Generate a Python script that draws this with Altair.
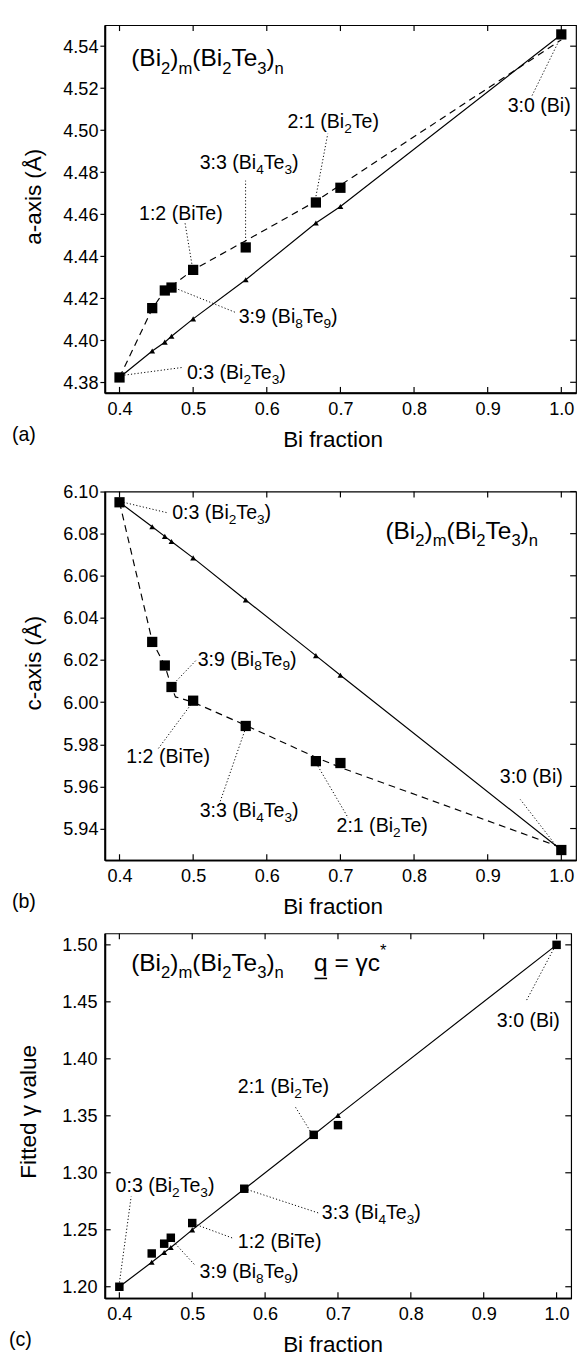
import altair as alt
import pandas as pd

FONT = "Liberation Sans"

# ---------------- data ----------------
bi_fraction = [0.4, 0.4444, 0.4615, 0.4706, 0.5, 0.5714, 0.6667, 0.7, 1.0]

a_measured = [4.3823, 4.4153, 4.4237, 4.4251, 4.4335, 4.4442, 4.4656, 4.4726, 4.5456]
a_vegard = [4.3823, 4.3949, 4.3991, 4.4019, 4.4102, 4.4288, 4.4558, 4.4637, 4.5456]
a_fit_x = [0.4, 0.4444, 0.4615, 0.4706, 0.5, 0.5714, 0.6667, 1.0]
a_fit_y = [4.3823, 4.4150, 4.4237, 4.4258, 4.4335, 4.4474, 4.4662, 4.5430]

b_measured = [6.0949, 6.0286, 6.0174, 6.0072, 6.0007, 5.9887, 5.9720, 5.9711, 5.9298]
b_vegard = [6.0949, 6.0833, 6.0787, 6.0763, 6.0685, 6.0485, 6.0221, 6.0128, 5.9298]
b_fit_x = [0.4, 0.4444, 0.4615, 0.4706, 0.476, 0.5, 0.5714, 0.6667, 0.7, 1.0]
b_fit_y = [6.0949, 6.0290, 6.0174, 6.0072, 6.0025, 6.0000, 5.9890, 5.9738, 5.9690, 5.9310]

c_measured = [1.2000, 1.2292, 1.2378, 1.2430, 1.2559, 1.2860, 1.3333, 1.3418, 1.5000]
c_model = [1.2000, 1.2215, 1.2301, 1.2344, 1.2499, 1.2857, 1.3333, 1.3504, 1.5000]

x_ticks = [0.4, 0.5, 0.6, 0.7, 0.8, 0.9, 1.0]
a_ticks = [4.38, 4.40, 4.42, 4.44, 4.46, 4.48, 4.50, 4.52, 4.54]
b_ticks = [5.94, 5.96, 5.98, 6.00, 6.02, 6.04, 6.06, 6.08, 6.10]
c_ticks = [1.20, 1.25, 1.30, 1.35, 1.40, 1.45, 1.50]

# annotations: (text, x, y, kind)  "_c" = subscript char, "^c" = superscript char
a_labels = [
    ("(Bi_2)_m(Bi_2Te_3)_n", 0.4159, 4.5305, "big"),
    ("2:1 (Bi_2Te)", 0.6283, 4.5011, "small"),
    ("3:0 (Bi)", 0.9271, 4.5086, "small"),
    ("3:3 (Bi_4Te_3)", 0.5088, 4.4816, "small"),
    ("1:2 (BiTe)", 0.4265, 4.4574, "small"),
    ("3:9 (Bi_8Te_9)", 0.5619, 4.4080, "small"),
    ("0:3 (Bi_2Te_3)", 0.4915, 4.3815, "small"),
]
a_leaders = [
    (0.6668, 4.4686, 0.6828, 4.4983),
    (0.9988, 4.5440, 0.9603, 4.5165),
    (0.5712, 4.4471, 0.5712, 4.4760),
    (0.4982, 4.4364, 0.4889, 4.4560),
    (0.4756, 4.4248, 0.5579, 4.4132),
    (0.4066, 4.3834, 0.4862, 4.3871),
]
b_labels = [
    ("(Bi_2)_m(Bi_2Te_3)_n", 0.7611, 6.0777, "big"),
    ("0:3 (Bi_2Te_3)", 0.4716, 6.0870, "small"),
    ("3:9 (Bi_8Te_9)", 0.5061, 6.0174, "small"),
    ("1:2 (BiTe)", 0.4092, 5.9710, "small"),
    ("3:3 (Bi_4Te_3)", 0.5088, 5.9454, "small"),
    ("2:1 (Bi_2Te)", 0.6947, 5.9385, "small"),
    ("3:0 (Bi)", 0.9164, 5.9617, "small"),
]
b_leaders = [
    (0.4052, 6.0949, 0.4663, 6.0898),
    (0.4743, 6.0090, 0.5035, 6.0197),
    (0.4968, 5.9988, 0.4517, 5.9775),
    (0.5699, 5.9863, 0.5354, 5.9515),
    (0.6695, 5.9696, 0.7106, 5.9450),
    (0.9948, 5.9310, 0.9443, 5.9538),
]
c_labels = [
    ("(Bi_2)_m(Bi_2Te_3)_n", 0.4162, 1.4774, "big"),
    ("q = γc^*", 0.6671, 1.4774, "big_underline"),
    ("3:0 (Bi)", 0.9180, 1.4276, "small"),
    ("2:1 (Bi_2Te)", 0.5625, 1.3702, "small"),
    ("3:3 (Bi_4Te_3)", 0.6779, 1.2595, "small"),
    ("1:2 (BiTe)", 0.5625, 1.2338, "small"),
    ("3:9 (Bi_8Te_9)", 0.5101, 1.2080, "small"),
    ("0:3 (Bi_2Te_3)", 0.3948, 1.2827, "small"),
]
c_leaders = [
    (0.9959, 1.4963, 0.9583, 1.4508),
    (0.6618, 1.3367, 0.6403, 1.3590),
    (0.5759, 1.2852, 0.6738, 1.2646),
    (0.5061, 1.2543, 0.5571, 1.2423),
    (0.4739, 1.2398, 0.5034, 1.2192),
    (0.4001, 1.2037, 0.4162, 1.2792),
]

# ---------------- helpers ----------------
ADV = {' ': 278, '(': 333, ')': 333, ':': 278, 'B': 667, 'i': 222, 'T': 611,
       'e': 556, 'm': 833, 'n': 556, 'q': 556, '=': 584, 'γ': 500, 'c': 500,
       '*': 389, '_': 556}
for d in "0123456789":
    ADV[d] = 556
KERN = {("T", "e"): -111}

STYLE = {"small": (20, 14, 5, 0), "big": (25, 17, 8, 15), "big_underline": (25, 17, 8, 15)}


def seg_width(seg, fs):
    w = sum(ADV.get(c, 556) for c in seg)
    for i in range(len(seg) - 1):
        w += KERN.get((seg[i], seg[i + 1]), 0)
    return w * fs / 1000.0


def parse(s):
    out, buf, i = [], "", 0
    while i < len(s):
        ch = s[i]
        if ch in "_^" and i + 1 < len(s):
            if buf:
                out.append((buf, "n"))
                buf = ""
            out.append((s[i + 1], "sub" if ch == "_" else "sup"))
            i += 2
        else:
            buf += ch
            i += 1
    if buf:
        out.append((buf, "n"))
    return out


def text_rows(labels, xper, yper):
    rows, unders = {}, []
    for text, x0, y0, kind in labels:
        fm, fsub, drop, rise = STYLE[kind]
        off = 0.0
        for seg, typ in parse(text):
            fs = fm if typ == "n" else fsub
            dy = 0 if typ == "n" else (drop if typ == "sub" else -rise)
            rows.setdefault(fs, []).append(
                {"x": x0 + off * xper, "y": y0 - dy * yper, "t": seg})
            off += seg_width(seg, fs)
        if kind == "big_underline":
            first = text[0]
            wq = seg_width(first, fm)
            yy = y0 - 8 * yper
            unders.append({"x": x0 + 0.5 * xper, "y": yy,
                           "x2": x0 + (wq - 0.5) * xper, "y2": yy})
    return rows, unders


def panel(W, H, xdom, ydom, yticks, ytitle, ytitle_x, ytitle_y, meas, model,
          fit_x, fit_y, labels, leaders, tag, tag_x, left_out, sq_size, spacer=0):
    xs = alt.Scale(domain=xdom, nice=False, zero=False)
    ys = alt.Scale(domain=ydom, nice=False, zero=False)
    xaxis = alt.Axis(values=x_ticks, format=".1f", ticks=False, labelFontSize=18.5,
                     labelPadding=7, labelColor="black", labelFlush=False,
                     domainColor="black", domainWidth=2, grid=False,
                     title="Bi fraction", titleFontSize=23, titleFontWeight="normal",
                     titleColor="black", titleX=233, titleY=55,
                     titleBaseline="alphabetic", titleAlign="center")
    yaxis = alt.Axis(values=yticks, format=".2f", ticks=left_out, tickSize=5,
                     tickWidth=1.2, tickColor="black", labelFontSize=18.5,
                     labelPadding=2 if left_out else 8, labelColor="black",
                     labelFlush=False, domainColor="black", domainWidth=2, grid=False,
                     title=ytitle, titleFontSize=23, titleFontWeight="normal",
                     titleColor="black", titleAngle=270, titleX=ytitle_x,
                     titleY=ytitle_y, titleBaseline="alphabetic", titleAlign="center")
    X = alt.X("x:Q", scale=xs, axis=xaxis)
    Y = alt.Y("y:Q", scale=ys, axis=yaxis)
    xper = (xdom[1] - xdom[0]) / W
    yper = (ydom[1] - ydom[0]) / H

    layers = []
    layers.append(alt.Chart(pd.DataFrame({"x": bi_fraction, "y": model}))
                  .mark_line(color="black", strokeWidth=1.2).encode(x=X, y=Y))
    if fit_x is not None:
        layers.append(alt.Chart(pd.DataFrame({"x": fit_x, "y": fit_y}))
                      .mark_line(color="black", strokeWidth=1.2, strokeDash=[7, 5])
                      .encode(x=X, y=Y))
    layers.append(alt.Chart(pd.DataFrame({"x": bi_fraction, "y": model}))
                  .mark_point(shape="triangle-up", filled=True, size=36, color="black",
                              opacity=1).encode(x=X, y=Y))
    layers.append(alt.Chart(pd.DataFrame({"x": bi_fraction, "y": meas}))
                  .mark_square(size=sq_size, color="black", opacity=1).encode(x=X, y=Y))
    ld = pd.DataFrame(leaders, columns=["x", "y", "x2", "y2"])
    layers.append(alt.Chart(ld).mark_rule(color="black", strokeWidth=1,
                                          strokeDash=[1.2, 2.2])
                  .encode(x=X, y=Y, x2="x2:Q", y2="y2:Q"))
    rows, unders = text_rows(labels, xper, yper)
    for fs, rr in rows.items():
        layers.append(alt.Chart(pd.DataFrame(rr))
                      .mark_text(align="left", baseline="alphabetic", fontSize=fs,
                                 font=FONT, color="black")
                      .encode(x=X, y=Y, text="t:N"))
    if unders:
        layers.append(alt.Chart(pd.DataFrame(unders))
                      .mark_rule(color="black", strokeWidth=1.6)
                      .encode(x=X, y=Y, x2="x2:Q", y2="y2:Q"))
    # inward ticks on the frame
    layers.append(alt.Chart(pd.DataFrame({"x": x_ticks}))
                  .mark_rule(color="black", strokeWidth=1.2)
                  .encode(x=X, y=alt.value(0), y2=alt.value(6)))
    layers.append(alt.Chart(pd.DataFrame({"x": x_ticks}))
                  .mark_rule(color="black", strokeWidth=1.2)
                  .encode(x=X, y=alt.value(H), y2=alt.value(H - 6)))
    layers.append(alt.Chart(pd.DataFrame({"y": yticks}))
                  .mark_rule(color="black", strokeWidth=1.2)
                  .encode(y=Y, x=alt.value(W), x2=alt.value(W - 6)))
    if not left_out:
        layers.append(alt.Chart(pd.DataFrame({"y": yticks}))
                      .mark_rule(color="black", strokeWidth=1.2)
                      .encode(y=Y, x=alt.value(0), x2=alt.value(6)))
    layers.append(alt.Chart(pd.DataFrame({"t": [tag]}))
                  .mark_text(align="left", baseline="alphabetic", fontSize=20,
                             font=FONT, color="black")
                  .encode(x=alt.value(tag_x), y=alt.value(H + 49), text="t:N"))
    if spacer:
        layers.append(alt.Chart(pd.DataFrame({"t": [tag]}))
                      .mark_rule(color="white", strokeWidth=1)
                      .encode(x=alt.value(300), y=alt.value(-spacer),
                              y2=alt.value(-spacer + 1)))
    return alt.layer(*layers).properties(width=W, height=H)


pa = panel(482, 376, [0.38, 1.02], [4.375, 4.55], a_ticks, "a-axis (Å)", -66, 175,
           a_measured, a_vegard, a_fit_x, a_fit_y, a_labels, a_leaders, "(a)", -95,
           True, 110)
pb = panel(482, 377, [0.38, 1.02], [5.925, 6.10], b_ticks, "c-axis (Å)", -66, 175,
           b_measured, b_vegard, b_fit_x, b_fit_y, b_labels, b_leaders, "(b)", -95,
           True, 110, spacer=26)
pc = panel(477, 373, [0.38, 1.02], [1.19, 1.51], c_ticks, "Fitted γ value", -71, 182,
           c_measured, c_model, None, None, c_labels, c_leaders, "(c)", -98,
           False, 75)

chart = (alt.vconcat(pa, pb, pc, spacing=12)
         .properties(padding=0, background="white")
         .configure_view(stroke="black", strokeWidth=1.2)
         .configure_axis(labelFont=FONT, titleFont=FONT)
         .configure_text(font=FONT))

chart.save("out.html", embed_options={"renderer": "svg", "actions": False})
